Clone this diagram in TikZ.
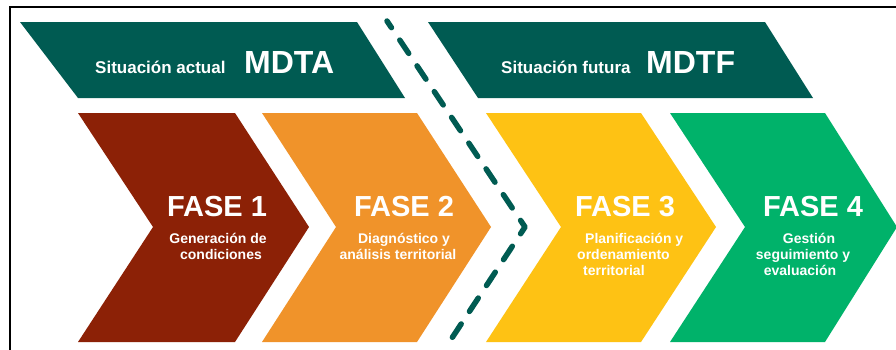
\documentclass[tikz,border=0pt]{standalone}
\usepackage{fontspec}
\setmainfont{Liberation Sans}
\definecolor{bannergreen}{RGB}{0,91,82}
\definecolor{phaseone}{RGB}{140,33,6}
\definecolor{phasetwo}{RGB}{240,147,42}
\definecolor{phasethree}{RGB}{254,194,20}
\definecolor{phasefour}{RGB}{0,178,106}
\tikzset{
  banner/.style={fill=bannergreen},
  bantext/.style={text=white, inner sep=0pt, font=\bfseries\fontsize{17}{20}\selectfont},
  bigtext/.style={text=white, inner sep=0pt, font=\bfseries\fontsize{32}{36}\selectfont},
  fasetext/.style={text=white, inner sep=0pt, font=\bfseries\fontsize{29}{32}\selectfont},
  subtext/.style={text=white, inner sep=0pt, font=\bfseries\fontsize{14}{16}\selectfont},
  divider/.style={draw=bannergreen, line width=5.5pt, line cap=round, line join=round, dash pattern=on 16pt off 15pt, dash phase=8pt},
  frameline/.style={draw=black, line width=1.8pt}
}
\begin{document}
\begin{tikzpicture}[x=1pt,y=-1pt]
\useasboundingbox (0,0) rectangle (896,349);
\fill[white] (0,0) rectangle (896,349);
% frame
\draw[frameline] (10,352) -- (10,7) -- (899,7);
% banners
\fill[banner] (20,22) -- (357,22) -- (405,98) -- (78,98) -- cycle;
\fill[banner] (428,22) -- (765,22) -- (813,98) -- (478,98) -- cycle;
% chevrons
\fill[phaseone] (78,113) -- (235,113) -- (309,227) -- (235,342) -- (78,342) -- (153,227) -- cycle;
\fill[phasetwo] (262,113) -- (417,113) -- (491,227) -- (417,342) -- (262,342) -- (336,227) -- cycle;
\fill[phasethree] (486,113) -- (641,113) -- (716,227) -- (641,342) -- (486,342) -- (561,227) -- cycle;
\fill[phasefour] (670,113) -- (825,113) -- (897,227) -- (825,342) -- (670,342) -- (745,227) -- cycle;
% dashed divider
\coordinate (dtop) at (387,21);
\coordinate (dmid) at (525,227);
\coordinate (dbot) at (448,344);
\draw[divider] (dtop) -- (dmid) -- (dbot);
% banner texts
\node[bantext, anchor=base west] (sa) at (95,73) {Situación actual};
\node[bigtext, anchor=base west] (mdta) at (244,73) {MDTA};
\node[bantext, anchor=base west] (sf) at (501,73) {Situación futura};
\node[bigtext, anchor=base west] (mdtf) at (646,73) {MDTF};
% phase titles
\node[fasetext, anchor=base] (f1) at (217,216) {FASE 1};
\node[fasetext, anchor=base] (f2) at (404,216) {FASE 2};
\node[fasetext, anchor=base] (f3) at (625,216) {FASE 3};
\node[fasetext, anchor=base] (f4) at (813,216) {FASE 4};
% phase subtitles
\node[subtext, anchor=base] (s1a) at (218,243) {Generación de};
\node[subtext, anchor=base] (s1b) at (221,259) {condiciones};
\node[subtext, anchor=base] (s2a) at (404,243) {Diagnóstico y};
\node[subtext, anchor=base] (s2b) at (398,259) {análisis territorial};
\node[subtext, anchor=base west] (s3a) at (585,243) {Planificación y};
\node[subtext, anchor=base west] (s3b) at (577,259) {ordenamiento};
\node[subtext, anchor=base west] (s3c) at (583,275) {territorial};
\node[subtext, anchor=base] (s4a) at (809,243) {Gestión};
\node[subtext, anchor=base] (s4b) at (803,259) {seguimiento y};
\node[subtext, anchor=base] (s4c) at (800,275) {evaluación};
\end{tikzpicture}
\end{document}
